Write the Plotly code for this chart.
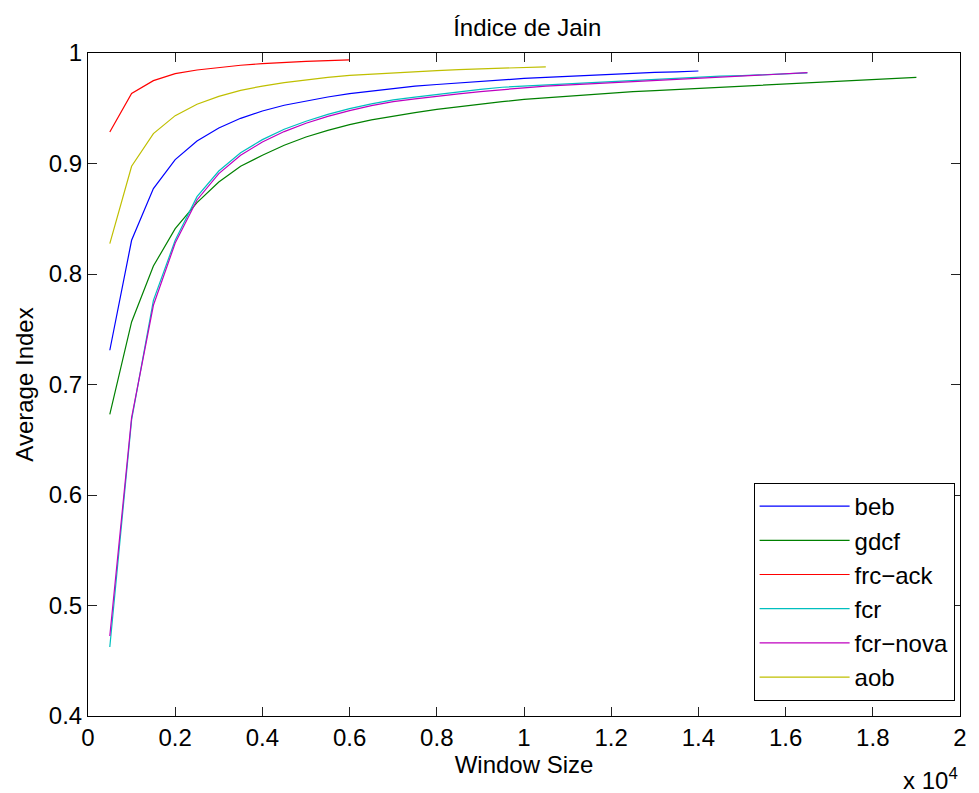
import plotly.graph_objects as go

# ---------------- data ----------------
x_beb = [500, 1000, 1500, 2000, 2500, 3000, 3500, 4000, 4500, 5000, 5500, 6000, 6500,
         7000, 7500, 8000, 8500, 9000, 9500, 10000, 10500, 11000, 11500, 12000, 12500,
         13000, 13500, 14000]
y_beb = [0.731, 0.8305, 0.8773, 0.9035, 0.9204, 0.9321, 0.9409, 0.9475, 0.9527, 0.9566,
         0.9602, 0.9632, 0.9656, 0.968, 0.970, 0.9715, 0.973, 0.9745, 0.976, 0.977, 0.978,
         0.979, 0.980, 0.981, 0.982, 0.9825, 0.983, 0.9837]

x_gdcf = [500, 1000, 1500, 2000, 2500, 3000, 3500, 4000, 4500, 5000, 5500, 6000, 6500,
          7000, 7500, 8000, 8500, 9000, 9500, 10000, 10500, 11000, 11500, 12000, 12500,
          13000, 13500, 14000, 14500, 15000, 15500, 16000, 16500, 17000, 17500, 18000,
          18500, 19000]
y_gdcf = [0.673, 0.7566, 0.8072, 0.841, 0.8646, 0.8833, 0.8975, 0.9074, 0.9165, 0.924,
          0.930, 0.9352, 0.9394, 0.943, 0.946, 0.949, 0.9515, 0.954, 0.956, 0.958, 0.9595,
          0.961, 0.9625, 0.964, 0.965, 0.966, 0.967, 0.968, 0.969, 0.970, 0.971, 0.972,
          0.973, 0.974, 0.975, 0.976, 0.977, 0.978]

x_frc_ack = [500, 1000, 1500, 2000, 2500, 3000, 3500, 4000, 4500, 5000, 5500, 6000]
y_frc_ack = [0.9285, 0.9633, 0.975, 0.9813, 0.9846, 0.987, 0.9889, 0.9904, 0.9916,
             0.9925, 0.9931, 0.9937]

x_fcr = [500, 1000, 1500, 2000, 2500, 3000, 3500, 4000, 4500, 5000, 5500, 6000, 6500,
         7000, 7500, 8000, 8500, 9000, 9500, 10000, 10500, 11000, 11500, 12000, 12500,
         13000, 13500, 14000, 14500, 15000, 15500, 16000, 16500]
y_fcr = [0.4625, 0.668, 0.7762, 0.8305, 0.870, 0.8932, 0.9098, 0.9216, 0.931, 0.9382,
         0.9445, 0.9497, 0.9539, 0.9575, 0.960, 0.9625, 0.965, 0.967, 0.969, 0.970,
         0.9715, 0.9725, 0.9735, 0.9745, 0.9755, 0.9765, 0.977, 0.978, 0.979, 0.9795,
         0.9805, 0.981, 0.982]

x_fcr_nova = x_fcr
y_fcr_nova = [0.4724, 0.670, 0.7717, 0.828, 0.867, 0.8909, 0.9074, 0.9195, 0.9289,
              0.9364, 0.9427, 0.9479, 0.9524, 0.956, 0.9585, 0.961, 0.963, 0.965, 0.967,
              0.9685, 0.970, 0.971, 0.972, 0.973, 0.974, 0.975, 0.976, 0.977, 0.978,
              0.979, 0.980, 0.981, 0.9822]

x_aob = [500, 1000, 1500, 2000, 2500, 3000, 3500, 4000, 4500, 5000, 5500, 6000, 6500,
         7000, 7500, 8000, 8500, 9000, 9500, 10000, 10500]
y_aob = [0.8275, 0.8975, 0.927, 0.9433, 0.9536, 0.9608, 0.9662, 0.9701, 0.9732, 0.9759,
         0.978, 0.9798, 0.981, 0.982, 0.983, 0.984, 0.985, 0.9855, 0.986, 0.9867, 0.9875]

series_names = ["beb", "gdcf", "frc\u2212ack", "fcr", "fcr\u2212nova", "aob"]
series_x = [x_beb, x_gdcf, x_frc_ack, x_fcr, x_fcr_nova, x_aob]
series_y = [y_beb, y_gdcf, y_frc_ack, y_fcr, y_fcr_nova, y_aob]
series_colors = ["rgb(0,0,255)", "rgb(0,128,0)", "rgb(255,0,0)",
                 "rgb(0,191,191)", "rgb(191,0,191)", "rgb(191,191,0)"]

x_tickvals = [0, 2000, 4000, 6000, 8000, 10000, 12000, 14000, 16000, 18000, 20000]
x_ticktext = ["0", "0.2", "0.4", "0.6", "0.8", "1", "1.2", "1.4", "1.6", "1.8", "2"]
y_tickvals = [0.4, 0.5, 0.6, 0.7, 0.8, 0.9, 1.0]
y_ticktext = ["0.4", "0.5", "0.6", "0.7", "0.8", "0.9", "1"]

FONT = "Liberation Sans, Arial, sans-serif"
FS = 24

fig = go.Figure()
for i, (name, xs, ys, col) in enumerate(zip(series_names, series_x, series_y, series_colors)):
    fig.add_trace(go.Scatter(x=xs, y=ys, mode="lines", name=name,
                             line=dict(color=col, width=1.2),
                             legendgroup=f"g{i}"))

axis_common = dict(showline=True, linecolor="black", linewidth=1, mirror="allticks",
                   ticks="inside", ticklen=9, tickwidth=1, tickcolor="#222",
                   showgrid=False, zeroline=False,
                   tickfont=dict(family=FONT, size=FS, color="black"))

fig.update_xaxes(range=[0, 20000], tickvals=x_tickvals, ticktext=x_ticktext,
                 title=dict(text="Window Size", font=dict(family=FONT, size=FS, color="black"),
                            standoff=6),
                 **axis_common)
fig.update_yaxes(range=[0.4, 1.0], tickvals=y_tickvals, ticktext=y_ticktext,
                 title=dict(text="Average Index", font=dict(family=FONT, size=FS, color="black"),
                            standoff=8),
                 **axis_common)

fig.add_annotation(x=1.0, y=0, xref="paper", yref="paper", xanchor="right", yanchor="top",
                   yshift=-46, xshift=0, showarrow=False,
                   text="x 10<sup>4</sup>", font=dict(family=FONT, size=FS, color="black"))

fig.update_layout(
    width=979, height=793,
    margin=dict(l=88, r=12, t=53, b=77),
    paper_bgcolor="white", plot_bgcolor="white",
    title=dict(text="Índice de Jain", x=0.5385, xanchor="center", y=0.965, yanchor="middle",
               font=dict(family=FONT, size=FS, color="black")),
    showlegend=True,
    legend=dict(x=0.7633, y=0.0226, xanchor="left", yanchor="bottom",
                bordercolor="black", borderwidth=1, bgcolor="white",
                font=dict(family=FONT, size=FS, color="black"),
                itemwidth=90, tracegroupgap=5, traceorder="normal"),
)

fig.write_html("out.html")
